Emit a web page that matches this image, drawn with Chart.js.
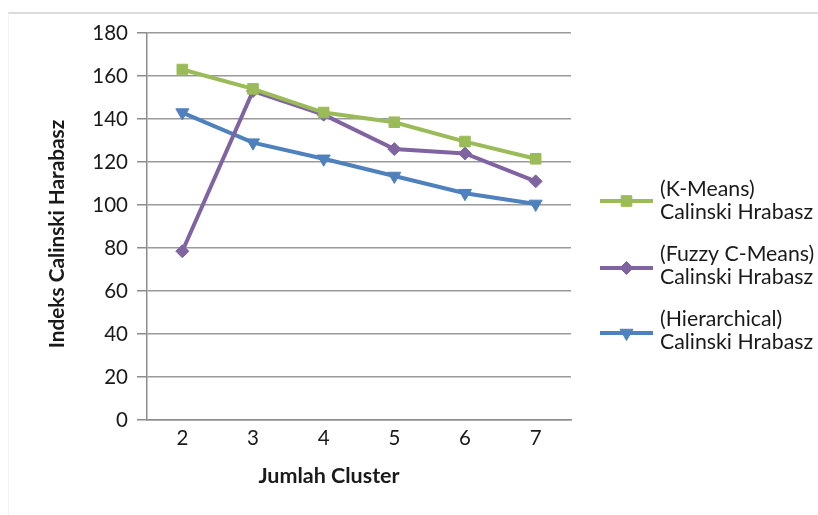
<!DOCTYPE html>
<html>
<head>
<meta charset="utf-8">
<script src="https://cdn.jsdelivr.net/npm/chart.js@4/dist/chart.umd.min.js"></script>
<style>
  html, body { margin: 0; padding: 0; background: #fff; }
  #wrap { position: relative; width: 818px; height: 515px; }
  #frame { position: absolute; left: 8px; top: 12px; right: 0; bottom: 0;
           border-top: 2px solid #dcdcdc; border-left: 1px solid #f2f2f2; pointer-events: none; }
  canvas { position: absolute; left: 0; top: 0; }
</style>
</head>
<body>
<div id="wrap">
  <div id="frame"></div>
  <canvas id="c" width="818" height="515"></canvas>
</div>
<script>
// ---- data ----
const clusterCounts = ['2', '3', '4', '5', '6', '7'];
const kMeansCH = [163, 154, 143, 138.5, 129.5, 121.5];
const fuzzyCMeansCH = [78.5, 153, 142, 126, 124, 111];
const hierarchicalCH = [143, 129, 121.5, 113.5, 105.5, 100.5];
const seriesLabels = [
  ['(K-Means)', 'Calinski Hrabasz'],
  ['(Fuzzy C-Means)', 'Calinski Hrabasz'],
  ['(Hierarchical)', 'Calinski Hrabasz']
];
const yTickValues = [0, 20, 40, 60, 80, 100, 120, 140, 160, 180];
const xAxisTitle = 'Jumlah Cluster';
const yAxisTitle = 'Indeks Calinski Harabasz';

const FONT = 'Lato, Carlito, "Liberation Sans", sans-serif';

const legendPlugin = {
  id: 'customLegend',
  afterDraw(chart) {
    const ctx = chart.ctx;
    const ds = chart.data.datasets;
    // axis titles
    ctx.save();
    ctx.fillStyle = '#1a1a1a';
    ctx.font = 'bold 21.5px ' + FONT;
    ctx.textAlign = 'center';
    ctx.textBaseline = 'middle';
    ctx.fillText(xAxisTitle, 329, 476);
    ctx.font = 'bold 20.8px ' + FONT;
    ctx.translate(57, 234);
    ctx.rotate(-Math.PI / 2);
    ctx.fillText(yAxisTitle, 0, 0);
    ctx.restore();

    // legend
    const itemY = [201, 268, 333];
    const textY = [[189, 212], [254, 277], [319, 342]];
    ds.forEach((d, i) => {
      const y = itemY[i];
      ctx.save();
      ctx.strokeStyle = d.borderColor;
      ctx.lineWidth = 4;
      ctx.beginPath();
      ctx.moveTo(600, y);
      ctx.lineTo(653, y);
      ctx.stroke();
      ctx.fillStyle = d.pointBackgroundColor;
      ctx.strokeStyle = d.pointBorderColor;
      ctx.lineWidth = 1;
      if (Chart.helpers && Chart.helpers.drawPoint) {
        Chart.helpers.drawPoint(ctx, {
          pointStyle: d.pointStyle, radius: d.pointRadius,
          rotation: d.pointRotation || 0, borderWidth: 1
        }, 626.5, y);
      }
      ctx.fillStyle = '#1a1a1a';
      ctx.font = '21.3px ' + FONT;
      ctx.textAlign = 'left';
      ctx.textBaseline = 'middle';
      seriesLabels[i].forEach((t, j) => ctx.fillText(t, 660, textY[i][j]));
      ctx.restore();
    });
  }
};

const mk = (label, data, color, style, radius, rot) => ({
  label, data,
  borderColor: color,
  backgroundColor: color,
  pointBackgroundColor: color,
  pointBorderColor: color,
  pointStyle: style,
  pointRadius: radius,
  pointHoverRadius: radius,
  pointRotation: rot,
  borderWidth: 4,
  pointBorderWidth: 1,
  tension: 0,
  fill: false
});

new Chart(document.getElementById('c'), {
  type: 'line',
  data: {
    labels: clusterCounts,
    datasets: [
      mk(seriesLabels[0].join(' '), kMeansCH, '#9BBB59', 'rect', 7.5, 0),
      mk(seriesLabels[1].join(' '), fuzzyCMeansCH, '#8064A2', 'rectRot', 6.5, 0),
      mk(seriesLabels[2].join(' '), hierarchicalCH, '#4F81BD', 'triangle', 7.5, 180)
    ]
  },
  options: {
    responsive: false,
    animation: false,
    devicePixelRatio: 1,
    layout: { padding: { left: 0, top: 33, right: 247, bottom: 0 } },
    plugins: { legend: { display: false }, tooltip: { enabled: false } },
    scales: {
      x: {
        offset: true,
        grid: { display: false, drawTicks: false, tickLength: 0 },
        border: { display: true, color: '#8c8c8c', width: 1.5 },
        ticks: { color: '#1a1a1a', font: { family: FONT, size: 20.5 }, padding: 6 },
        afterFit(s) { s.height = 95; }
      },
      y: {
        min: 0, max: 180,
        afterBuildTicks(s) { s.ticks = yTickValues.map(v => ({ value: v })); },
        grid: { color: '#9a9a9a', lineWidth: 1.5, drawTicks: true, tickLength: 10, tickColor: '#8c8c8c' },
        border: { display: true, color: '#8c8c8c', width: 1.5 },
        ticks: { color: '#1a1a1a', font: { family: FONT, size: 20.5 }, padding: 9 },
        afterFit(s) { s.width = 147; }
      }
    }
  },
  plugins: [legendPlugin]
});
</script>
</body>
</html>
